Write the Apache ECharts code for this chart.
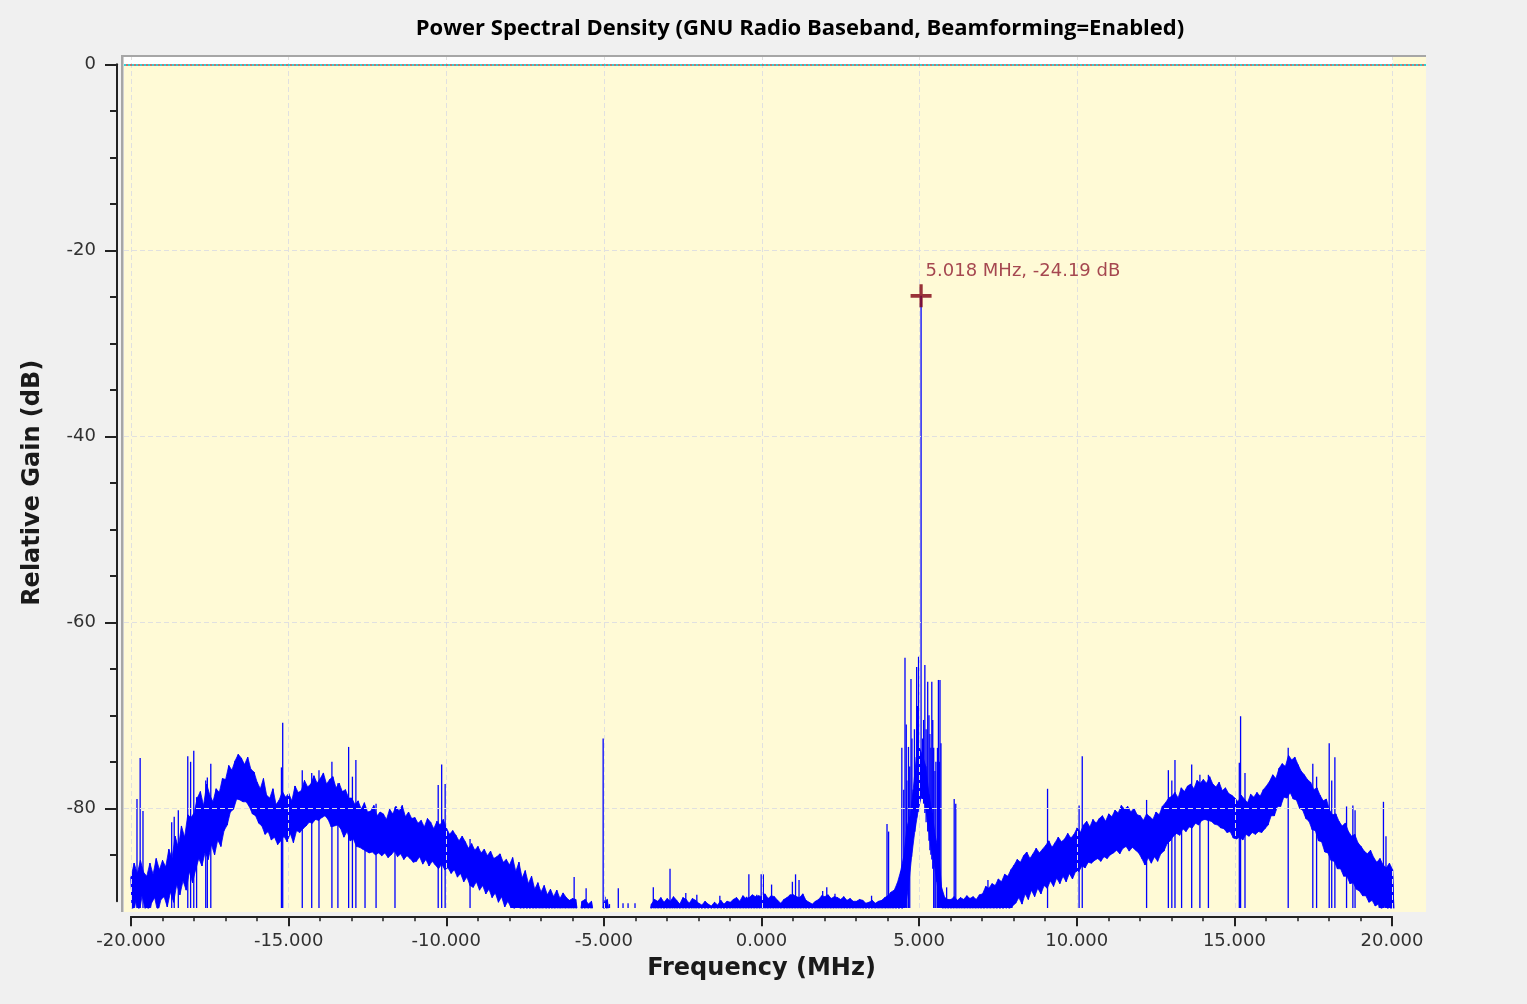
<!DOCTYPE html>
<html><head><meta charset="utf-8">
<script src="https://cdn.jsdelivr.net/npm/echarts@6/dist/echarts.min.js"></script>
<style>html,body{margin:0;padding:0;background:#f0f0f0;}#c{width:1527px;height:1004px;}</style>
</head><body><div id="c"></div>
<script>
// ---------- text ----------
const titleText = 'Power Spectral Density (GNU Radio Baseband, Beamforming=Enabled)';
const xName = 'Frequency (MHz)';
const yName = 'Relative Gain (dB)';
const markerLabel = '5.018 MHz, -24.19 dB';

// ---------- ticks ----------
const xMajorTicks = [-20, -15, -10, -5, 0, 5, 10, 15, 20];
const yMajorTicks = [0, -20, -40, -60, -80];
const yMinorTicks = [-5, -10, -15, -25, -30, -35, -45, -50, -55, -65, -70, -75, -85];

// ---------- spectrum: max / min per 0.1 MHz bin (dB), -20 .. 20 MHz ----------
const binStart = -20, binStep = 0.1;
const bandHi = [
 -87.4,-85.9,-87.0,-85.6,-86.9,-87.3,-85.9,-87.1,-85.4,-86.6,
 -85.6,-86.3,-84.4,-85.4,-83.0,-84.2,-81.9,-83.1,-80.7,-81.0,
 -80.5,-78.9,-78.2,-79.7,-77.4,-78.6,-79.3,-77.9,-78.3,-76.8,
 -76.9,-75.4,-75.9,-74.9,-74.2,-74.6,-75.3,-74.5,-75.8,-76.1,
 -77.2,-77.9,-76.8,-78.6,-78.9,-77.9,-79.6,-79.1,-78.2,-78.8,
 -78.4,-79.2,-77.6,-78.3,-78.1,-77.0,-77.7,-77.4,-76.5,-77.3,
 -76.8,-76.2,-77.4,-76.9,-76.6,-77.8,-77.3,-78.2,-78.0,-78.9,
 -78.9,-79.6,-79.2,-80.1,-79.4,-80.4,-80.3,-79.7,-80.8,-80.4,
 -80.6,-81.2,-80.1,-80.6,-79.8,-80.3,-79.7,-80.9,-80.4,-81.1,
 -81.0,-81.6,-81.3,-82.0,-81.1,-81.5,-82.2,-81.4,-81.8,-81.2,
 -82.1,-82.8,-82.4,-82.9,-83.5,-83.0,-83.6,-84.3,-83.8,-84.5,
 -84.1,-84.8,-84.4,-85.1,-84.6,-85.4,-85.2,-84.9,-85.8,-85.5,
 -86.1,-85.3,-86.8,-85.8,-87.5,-86.7,-88.1,-87.3,-88.7,-88.0,
 -89.0,-88.3,-89.3,-88.7,-89.5,-88.8,-89.7,-89.1,-89.6,-89.9,
 -89.7,-89.8,-92.0,-90.0,-89.8,-90.3,-90.0,-92.0,-92.0,-92.0,
 -90.1,-89.8,-92.0,-92.0,-92.0,-92.0,-92.0,-92.0,-92.0,-92.0,
 -92.0,-92.0,-92.0,-92.0,-92.0,-90.3,-89.8,-90.0,-89.6,-90.1,
 -89.7,-90.0,-89.5,-89.9,-90.3,-89.6,-89.8,-90.2,-89.7,-89.9,
 -90.2,-90.4,-90.0,-90.3,-90.5,-90.1,-90.4,-89.9,-90.3,-90.0,
 -90.1,-89.8,-89.6,-90.0,-89.4,-89.7,-89.6,-89.3,-89.5,-89.4,
 -89.5,-89.2,-89.7,-89.4,-89.5,-89.9,-90.2,-89.8,-89.6,-89.3,
 -89.3,-89.5,-89.6,-89.2,-89.9,-90.1,-90.3,-90.0,-89.8,-89.4,
 -89.5,-89.3,-89.7,-89.5,-89.6,-89.8,-89.5,-89.9,-89.7,-90.0,
 -90.0,-89.8,-89.9,-90.2,-90.1,-89.9,-90.2,-90.0,-89.9,-89.6,
 -89.4,-89.0,-88.8,-88.0,-86.8,-85.2,-82.0,-80.9,-78.0,-74.5,
 -73.5,-74.4,-75.5,-78.5,-80.5,-83.0,-84.5,-88.5,-89.6,-89.8,
 -89.8,-89.5,-89.9,-89.6,-89.8,-89.4,-89.7,-89.5,-89.8,-89.3,
 -89.2,-88.4,-88.6,-88.1,-88.3,-87.6,-87.9,-87.1,-87.3,-86.6,
 -86.1,-85.5,-85.8,-85.1,-84.7,-85.4,-84.9,-84.3,-84.8,-84.4,
 -84.0,-83.5,-84.2,-83.7,-83.1,-83.6,-83.3,-82.7,-83.2,-82.8,
 -82.1,-82.6,-81.8,-81.4,-82.0,-81.2,-81.6,-81.1,-80.8,-81.4,
 -80.6,-80.9,-80.2,-80.5,-79.7,-80.1,-79.8,-80.4,-80.0,-80.7,
 -80.8,-81.3,-80.6,-80.9,-81.2,-80.4,-80.7,-79.8,-79.4,-78.9,
 -78.7,-78.3,-78.9,-77.8,-78.2,-77.6,-77.4,-77.9,-77.0,-77.3,
 -76.9,-77.3,-76.6,-77.4,-77.7,-77.2,-78.1,-77.8,-78.4,-78.6,
 -78.9,-79.3,-78.6,-79.0,-79.4,-78.5,-78.8,-78.3,-78.7,-78.0,
 -77.6,-77.1,-76.4,-76.8,-75.7,-75.2,-75.5,-74.3,-74.8,-74.5,
 -75.3,-76.0,-76.4,-76.9,-77.2,-78.0,-77.8,-78.6,-79.2,-79.0,
 -80.2,-80.7,-80.6,-81.4,-81.9,-81.6,-82.5,-83.0,-82.8,-83.7,
 -84.1,-84.6,-84.9,-84.5,-85.3,-85.8,-85.4,-86.1,-86.4,-85.9,
 -86.6
];
const bandLo = [
 -92.0,-90.0,-91.5,-89.4,-90.8,-92.0,-90.2,-89.6,-91.2,-89.8,
 -89.5,-90.6,-89.0,-90.1,-88.2,-89.3,-87.8,-88.8,-86.8,-88.0,
 -86.6,-85.4,-86.2,-84.7,-85.5,-83.9,-85.0,-83.4,-84.1,-82.4,
 -81.8,-80.4,-80.1,-79.0,-79.1,-79.3,-79.3,-79.8,-80.6,-80.8,
 -81.6,-81.9,-82.8,-82.5,-83.4,-83.1,-83.9,-83.5,-83.0,-83.6,
 -82.7,-83.7,-82.4,-82.6,-82.2,-81.9,-81.5,-81.6,-81.2,-81.3,
 -81.0,-80.8,-81.2,-82.0,-81.9,-81.8,-82.2,-83.1,-82.5,-83.5,
 -83.3,-84.1,-84.2,-84.4,-84.6,-84.8,-84.7,-85.0,-84.8,-85.1,
 -84.8,-85.3,-85.0,-84.6,-85.2,-84.9,-85.5,-85.1,-85.4,-85.8,
 -85.7,-85.2,-86.0,-85.5,-86.2,-85.7,-86.1,-86.5,-86.0,-86.6,
 -86.4,-87.0,-86.6,-87.4,-87.0,-87.9,-87.4,-88.3,-88.5,-87.9,
 -88.8,-88.3,-89.2,-88.7,-89.6,-89.1,-90.1,-89.5,-90.6,-90.0,
 -90.7,-92.0,-90.6,-92.0,-92.0,-92.0,-92.0,-92.0,-92.0,-92.0,
 -92.0,-92.0,-92.0,-92.0,-92.0,-92.0,-92.0,-92.0,-92.0,-92.0,
 -92.0,-92.0,-92.0,-92.0,-92.0,-92.0,-92.0,-92.0,-92.0,-92.0,
 -92.0,-92.0,-92.0,-92.0,-92.0,-92.0,-92.0,-92.0,-92.0,-92.0,
 -92.0,-92.0,-92.0,-92.0,-92.0,-92.0,-92.0,-92.0,-92.0,-92.0,
 -92.0,-92.0,-92.0,-92.0,-92.0,-92.0,-92.0,-92.0,-92.0,-92.0,
 -92.0,-92.0,-92.0,-92.0,-92.0,-92.0,-92.0,-92.0,-92.0,-92.0,
 -92.0,-92.0,-92.0,-92.0,-92.0,-92.0,-92.0,-92.0,-92.0,-92.0,
 -92.0,-92.0,-92.0,-92.0,-92.0,-92.0,-92.0,-92.0,-92.0,-92.0,
 -92.0,-92.0,-92.0,-92.0,-92.0,-92.0,-92.0,-92.0,-92.0,-92.0,
 -92.0,-92.0,-92.0,-92.0,-92.0,-92.0,-92.0,-92.0,-92.0,-92.0,
 -92.0,-92.0,-92.0,-92.0,-92.0,-92.0,-92.0,-92.0,-92.0,-92.0,
 -92.0,-92.0,-92.0,-92.0,-92.0,-90.6,-88.5,-85.2,-82.5,-80.4,
 -78.8,-79.1,-81.2,-84.0,-85.6,-87.9,-90.2,-92.0,-92.0,-92.0,
 -92.0,-92.0,-92.0,-92.0,-92.0,-92.0,-92.0,-92.0,-92.0,-92.0,
 -92.0,-92.0,-92.0,-92.0,-92.0,-92.0,-92.0,-90.8,-92.0,-90.5,
 -90.2,-89.6,-90.3,-89.2,-89.8,-88.8,-89.5,-88.6,-89.2,-88.3,
 -88.6,-87.8,-88.4,-87.5,-88.1,-87.3,-87.9,-87.0,-87.6,-86.8,
 -86.8,-86.2,-86.4,-85.8,-85.9,-85.6,-85.4,-85.7,-85.2,-85.4,
 -85.0,-84.8,-84.5,-84.9,-84.3,-84.1,-84.6,-84.2,-84.5,-84.8,
 -85.4,-86.1,-85.3,-85.9,-85.2,-85.7,-84.9,-84.6,-83.8,-83.5,
 -83.0,-82.7,-82.9,-82.2,-82.5,-82.0,-82.1,-81.6,-81.8,-81.3,
 -81.2,-81.3,-81.4,-81.7,-81.8,-82.1,-82.2,-82.6,-82.5,-83.2,
 -83.3,-83.1,-83.4,-82.8,-83.0,-82.6,-82.8,-82.5,-82.6,-82.2,
 -81.8,-80.8,-80.8,-79.8,-79.8,-78.8,-78.9,-78.3,-79.0,-79.1,
 -80.0,-80.2,-81.1,-81.4,-82.3,-82.4,-83.5,-83.6,-84.7,-84.8,
 -85.6,-85.7,-86.5,-86.5,-87.3,-87.3,-88.1,-88.0,-88.7,-88.9,
 -89.4,-89.4,-90.1,-89.9,-90.5,-90.3,-92.0,-90.4,-92.0,-92.0,
 -92.0
];

// ---------- narrow spurs (MHz, top dB, base dB) ----------
const spikeFreq = [
 -19.81,-19.71,-19.62,-18.71,-18.63,-18.50,-18.20,-18.11,-18.01,-17.92,-17.63,-17.58,-17.47,
 -15.23,-15.19,-14.57,-14.27,-14.04,-13.63,-13.44,-13.10,-12.98,-12.87,-12.58,-12.23,-11.63,
 -10.26,-10.15,-10.04,-9.25,
 -5.95,-5.57,-5.03,-4.97,-4.83,-4.55,-4.40,-4.24,-4.02,-3.44,-2.91,-2.41,-2.06,-1.33,-0.48,
 -0.41,-0.16,-0.02,0.05,0.31,0.97,1.07,1.18,1.93,2.06,2.32,3.48,3.97,4.02,
 4.44,4.50,4.54,4.58,4.60,4.65,4.69,4.73,4.76,4.80,4.84,4.86,4.91,4.94,4.97,5.05,5.10,5.13,5.17,5.21,
 5.26,5.30,5.33,5.36,5.39,5.42,5.45,5.49,5.52,5.57,5.60,5.63,5.65,5.68,
 5.86,6.10,6.15,7.17,9.06,10.06,10.16,12.20,12.89,13.00,13.10,13.31,13.63,13.89,14.16,
 15.14,15.18,15.32,16.69,17.47,17.59,17.99,18.07,18.17,18.54,18.74,18.81,19.71,19.79
];
const spikeTop = [
 -79.0,-74.6,-80.3,-81.5,-80.9,-80.2,-74.4,-75.0,-73.8,-78.8,-77.0,-76.7,-75.2,
 -75.6,-70.8,-75.9,-76.2,-75.9,-75.0,-77.3,-73.4,-76.6,-74.8,-79.8,-79.5,-79.9,
 -77.5,-75.3,-77.4,-83.3,
 -87.4,-88.6,-72.5,-89.5,-90.3,-88.6,-90.2,-90.2,-90.2,-88.5,-86.5,-89.1,-89.3,-89.4,-89.5,
 -87.1,-89.3,-87.1,-87.1,-88.2,-87.9,-87.1,-87.7,-88.9,-88.5,-89.2,-89.4,-81.7,-82.5,
 -73.5,-78.0,-63.8,-71.0,-77.0,-73.4,-75.5,-66.1,-72.5,-80.5,-71.5,-76.2,-64.8,-69.0,-63.7,-24.9,-72.5,-70.5,-64.6,-71.5,
 -66.4,-70.0,-72.0,-73.5,-66.4,-70.5,-73.5,-76.0,-75.0,-73.5,-66.2,-75.0,-66.2,-73.0,
 -88.5,-79.0,-79.5,-87.7,-77.9,-79.7,-74.4,-79.1,-75.9,-77.0,-74.8,-78.4,-75.3,-76.4,-76.4,
 -75.1,-70.1,-76.2,-73.5,-75.2,-76.6,-73.0,-77.0,-74.5,-79.8,-79.7,-80.2,-79.3,-83.0
];
const spikeBase = [
 -92,-92,-92,-92,-92,-92,-92,-92,-92,-92,-92,-92,-92,
 -92,-92,-92,-92,-92,-92,-92,-92,-92,-92,-92,-92,-92,
 -92,-92,-92,-92,
 -92,-92,-92,-92,-92,-92,-92,-92,-92,-92,-92,-92,-92,-92,-92,
 -92,-92,-92,-92,-92,-92,-92,-92,-92,-92,-92,-92,-92,-92,
 -92,-92,-92,-92,-92,-92,-92,-85.0,-84.0,-83.0,-82.5,-82.0,-81.0,-80.0,-79.5,-79.0,-79.0,-79.5,-80.5,-81.5,
 -82.5,-83.5,-84.5,-85.0,-85.5,-86.5,-92,-92,-92,-92,-92,-92,-92,-92,
 -92,-92,-92,-92,-92,-92,-92,-92,-92,-92,-92,-92,-92,-92,-92,
 -92,-92,-92,-92,-92,-92,-92,-92,-92,-92,-92,-92,-92,-92
];

// ---------- marker ----------
const markerFreq = 5.05, markerDb = -24.9;

// ---------- layout (pixels) ----------
const PXF = 31.54, PXD = 9.3;
const AX_LEFT = 131, AX_RIGHT = 1392, AX_TOP = 64.3;
const CV_LEFT = 124, CV_RIGHT = 1426, CV_TOP = 57, CV_BOTTOM = 912, DATA_BOTTOM = 908;
const xMinA = -20 - (AX_LEFT - CV_LEFT) / PXF;
const xMaxA = -20 + (CV_RIGHT - AX_LEFT) / PXF;
const yMaxA = (AX_TOP - CV_TOP) / PXD;
const yMinA = -(DATA_BOTTOM - AX_TOP) / PXD;

const BLUE = '#0000ff';
const FONT = 'DejaVu Sans';

function binFreq(i) { return +(binStart + i * binStep).toFixed(3); }
function renderBand(params, api) {
  const top = [], bot = [];
  for (let i = 0; i < bandHi.length; i++) {
    top.push(api.coord([binFreq(i), bandHi[i]]));
    bot.push(api.coord([binFreq(i) + binStep / 2, bandLo[i]]));
  }
  return { type: 'polygon', shape: { points: top.concat(bot.reverse()) },
           style: { fill: BLUE, stroke: BLUE, lineWidth: 0.8 } };
}
function renderSpike(params, api) {
  const p1 = api.coord([api.value(0), api.value(2)]);
  const p2 = api.coord([api.value(0), api.value(1)]);
  return { type: 'line', shape: { x1: p1[0], y1: p1[1], x2: p2[0], y2: p2[1] },
           style: { stroke: BLUE, lineWidth: 1.3 } };
}
function renderStrip(params, api) {
  const a = api.coord([xMinA, yMaxA]);
  const b = api.coord([20, 0]);
  return { type: 'rect', shape: { x: a[0], y: a[1], width: b[0] - a[0], height: b[1] - a[1] },
           style: { fill: '#ffffff' } };
}
const traceData = [];
for (let i = 0; i < bandHi.length; i++) {
  traceData.push([binFreq(i), bandHi[i]]);
  traceData.push([binFreq(i) + binStep / 2, bandLo[i]]);
}

const chart = echarts.init(document.getElementById('c'), null, { renderer: 'canvas' });
const axisCol = '#222';
chart.setOption({
  animation: false,
  backgroundColor: '#f0f0f0',
  title: { text: titleText, left: 795, top: 13, textAlign: 'center',
    textStyle: { fontFamily: 'Open Sans', fontWeight: 'bold', fontSize: 22, color: '#000' } },
  graphic: [
    { type: 'rect', z: 0, silent: true, shape: { x: CV_LEFT, y: CV_TOP, width: CV_RIGHT - CV_LEFT, height: CV_BOTTOM - CV_TOP }, style: { fill: '#fffad6' } },
    { type: 'rect', z: 0, silent: true, shape: { x: 121, y: 55, width: CV_RIGHT - 121, height: 2 }, style: { fill: '#a6a6a6' } },
    { type: 'rect', z: 0, silent: true, shape: { x: 121, y: 55, width: 2, height: CV_BOTTOM - 55 }, style: { fill: '#a6a6a6' } },
    { type: 'rect', z: 0, silent: true, shape: { x: 123, y: 57, width: 1, height: CV_BOTTOM - 57 }, style: { fill: '#d0d0d0' } }
  ],
  grid: [
    { left: CV_LEFT, top: CV_TOP, width: CV_RIGHT - CV_LEFT, height: DATA_BOTTOM - CV_TOP, show: false, containLabel: false },
    { left: AX_LEFT, top: AX_TOP, width: AX_RIGHT - AX_LEFT, height: 90 * PXD, show: false, containLabel: false }
  ],
  xAxis: [
    { gridIndex: 0, type: 'value', min: xMinA, max: xMaxA, show: false },
    { gridIndex: 1, type: 'value', min: -20, max: 20, interval: 5, offset: 15, position: 'bottom',
      axisLine: { show: true, onZero: false, lineStyle: { color: axisCol, width: 2 } },
      axisTick: { show: true, length: 10, lineStyle: { color: axisCol, width: 2 } },
      minorTick: { show: true, splitNumber: 5, length: 5, lineStyle: { color: axisCol, width: 1.5 } },
      splitLine: { show: false },
      axisLabel: { formatter: v => v.toFixed(3), fontFamily: FONT, fontSize: 18, color: '#303030', margin: 16 },
      name: xName, nameLocation: 'middle', nameGap: 40,
      nameTextStyle: { fontFamily: FONT, fontWeight: 'bold', fontSize: 24, color: '#1a1a1a' } }
  ],
  yAxis: [
    { gridIndex: 0, type: 'value', min: yMinA, max: yMaxA, show: false },
    { gridIndex: 1, type: 'value', min: -90, max: 0, offset: 14, position: 'left',
      axisLine: { show: true, onZero: false, lineStyle: { color: axisCol, width: 2 } },
      axisTick: { show: true, length: 7, customValues: yMinorTicks, lineStyle: { color: axisCol, width: 2 } },
      axisLabel: { show: false },
      splitLine: { show: false } },
    { gridIndex: 1, type: 'value', min: -90, max: 0, offset: 14, position: 'left',
      axisLine: { show: false, onZero: false },
      axisTick: { show: true, length: 12, customValues: yMajorTicks, lineStyle: { color: axisCol, width: 2 } },
      axisLabel: { show: true, customValues: yMajorTicks, formatter: v => String(v), fontFamily: FONT, fontSize: 18, color: '#303030', margin: 21 },
      splitLine: { show: false },
      name: yName, nameLocation: 'middle', nameGap: 72,
      nameTextStyle: { fontFamily: FONT, fontWeight: 'bold', fontSize: 24, color: '#1a1a1a' } }
  ],
  series: [
    { type: 'custom', xAxisIndex: 0, yAxisIndex: 0, z: 1, silent: true, clip: true,
      data: [[0, 0]], renderItem: renderStrip },
    { type: 'line', xAxisIndex: 0, yAxisIndex: 0, data: [], z: 1, silent: true, symbol: 'none',
      markLine: { silent: true, symbol: 'none', label: { show: false },
        lineStyle: { color: '#e0e0e0', type: [5, 3], width: 1 },
        data: xMajorTicks.map(v => ({ xAxis: v })).concat(yMajorTicks.filter(v => v !== 0).map(v => ({ yAxis: v }))) } },
    { type: 'line', xAxisIndex: 0, yAxisIndex: 0, data: [], z: 1, silent: true, symbol: 'none',
      markLine: { silent: true, symbol: 'none', label: { show: false },
        lineStyle: { color: '#00c8d4', type: [2, 2], width: 1.6 }, data: [{ yAxis: 0 }] } },
    { type: 'line', xAxisIndex: 0, yAxisIndex: 0, data: [], z: 1, silent: true, symbol: 'none',
      markLine: { silent: true, symbol: 'none', label: { show: false },
        lineStyle: { color: '#c05050', type: [2, 2], dashOffset: 2, width: 1.6 }, data: [{ yAxis: 0 }] } },
    { type: 'custom', xAxisIndex: 0, yAxisIndex: 0, z: 3, clip: true, silent: true,
      data: [[0, -90]], renderItem: renderBand },
    { type: 'line', xAxisIndex: 0, yAxisIndex: 0, z: 3, clip: true, silent: true, symbol: 'none',
      data: traceData, lineStyle: { color: BLUE, width: 1 } },
    { type: 'custom', xAxisIndex: 0, yAxisIndex: 0, z: 4, clip: true, silent: true,
      encode: { x: 0, y: [1, 2] },
      data: spikeFreq.map((f, i) => [f, spikeTop[i], spikeBase[i]]), renderItem: renderSpike },
    { type: 'scatter', xAxisIndex: 0, yAxisIndex: 0, z: 6, silent: true,
      data: [[markerFreq, markerDb]],
      symbol: 'path://M-1.7,-11H1.7V-1.7H11V1.7H1.7V11H-1.7V1.7H-11V-1.7H-1.7Z',
      symbolSize: [21, 23], itemStyle: { color: '#800010' },
      label: { show: true, formatter: markerLabel, position: [15, -22], align: 'left', verticalAlign: 'top',
        fontFamily: FONT, fontSize: 18, color: '#8e1a2e' } }
  ]
});
</script></body></html>
